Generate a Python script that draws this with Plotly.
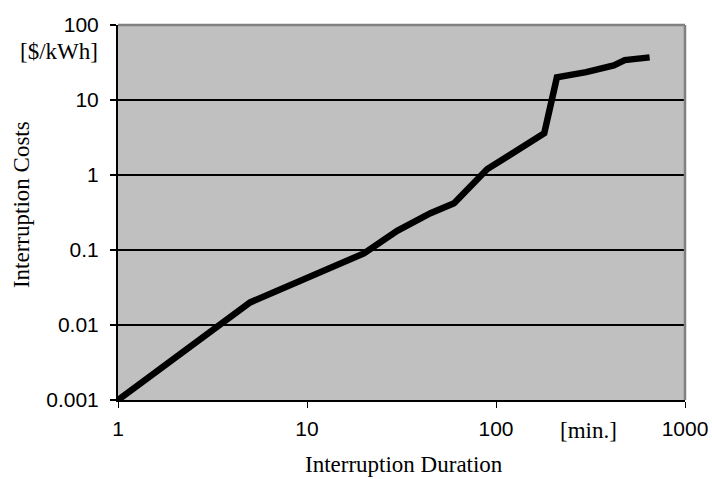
import plotly.graph_objects as go
import math

# Data
duration_min = [1, 5, 20, 30, 45, 60, 90, 180, 210, 300, 420, 480, 650]
cost_per_kwh = [0.001, 0.02, 0.09, 0.18, 0.31, 0.42, 1.2, 3.6, 20, 23.5, 29, 34, 37]

x_tick_vals = [1, 10, 100, 1000]
x_tick_text = ["1", "10", "100", "1000"]
y_tick_vals = [0.001, 0.01, 0.1, 1, 10, 100]
y_tick_text = ["0.001", "0.01", "0.1", "1", "10", "100"]

serif = "Liberation Serif, Times New Roman, serif"
sans = "Liberation Sans, Arial, sans-serif"

fig = go.Figure()
fig.add_trace(go.Scatter(
    x=duration_min, y=cost_per_kwh, mode="lines",
    line=dict(color="black", width=6.5),
    hoverinfo="skip", showlegend=False,
))

fig.update_layout(
    width=712, height=479,
    margin=dict(l=118, r=27, t=25, b=79),
    paper_bgcolor="white",
    plot_bgcolor="#C0C0C0",
    font=dict(family=sans, size=21, color="black"),
    xaxis=dict(
        type="log", range=[0, 3], automargin=False,
        tickvals=x_tick_vals, ticktext=x_tick_text,
        showgrid=False, zeroline=False,
        showline=True, linecolor="black", linewidth=2,
        ticks="outside", ticklen=6, tickcolor="black", tickwidth=1,
        ticklabelstandoff=3,
        tickfont=dict(family=sans, size=21),
    ),
    yaxis=dict(
        type="log", range=[-3, 2], automargin=False,
        tickvals=y_tick_vals, ticktext=y_tick_text,
        showgrid=True, gridcolor="black", gridwidth=1.5,
        zeroline=False,
        showline=True, linecolor="black", linewidth=2,
        ticks="outside", ticklen=6, tickcolor="black", tickwidth=2,
        ticklabelstandoff=7,
        tickfont=dict(family=sans, size=21),
    ),
    shapes=[
        dict(type="line", xref="paper", yref="paper", x0=0, x1=1, y0=1, y1=1,
             line=dict(color="#808080", width=2.5)),
        dict(type="line", xref="paper", yref="paper", x0=1, x1=1, y0=0, y1=1,
             line=dict(color="#808080", width=2.5)),
    ],
    annotations=[
        dict(text="Interruption Costs", xref="paper", yref="paper", x=-0.171, y=0.52,
             xanchor="center", yanchor="middle", textangle=-90, showarrow=False,
             font=dict(family=serif, size=23)),
        dict(text="Interruption Duration", xref="paper", yref="paper", x=0.504, y=-0.173,
             xanchor="center", yanchor="middle", showarrow=False,
             font=dict(family=serif, size=23)),
        dict(text="[$/kWh]", xref="paper", yref="paper", x=-0.032, y=0.928,
             xanchor="right", yanchor="middle", showarrow=False,
             font=dict(family=serif, size=23)),
        dict(text="[min.]", xref="x", yref="paper", x=math.log10(310), y=-0.08,
             xanchor="center", yanchor="middle", showarrow=False,
             font=dict(family=serif, size=23)),
    ],
)

fig.write_html(
    "out.html",
    config={"displayModeBar": False},
    post_script="document.body.style.margin='0';document.body.style.overflow='hidden';",
)
